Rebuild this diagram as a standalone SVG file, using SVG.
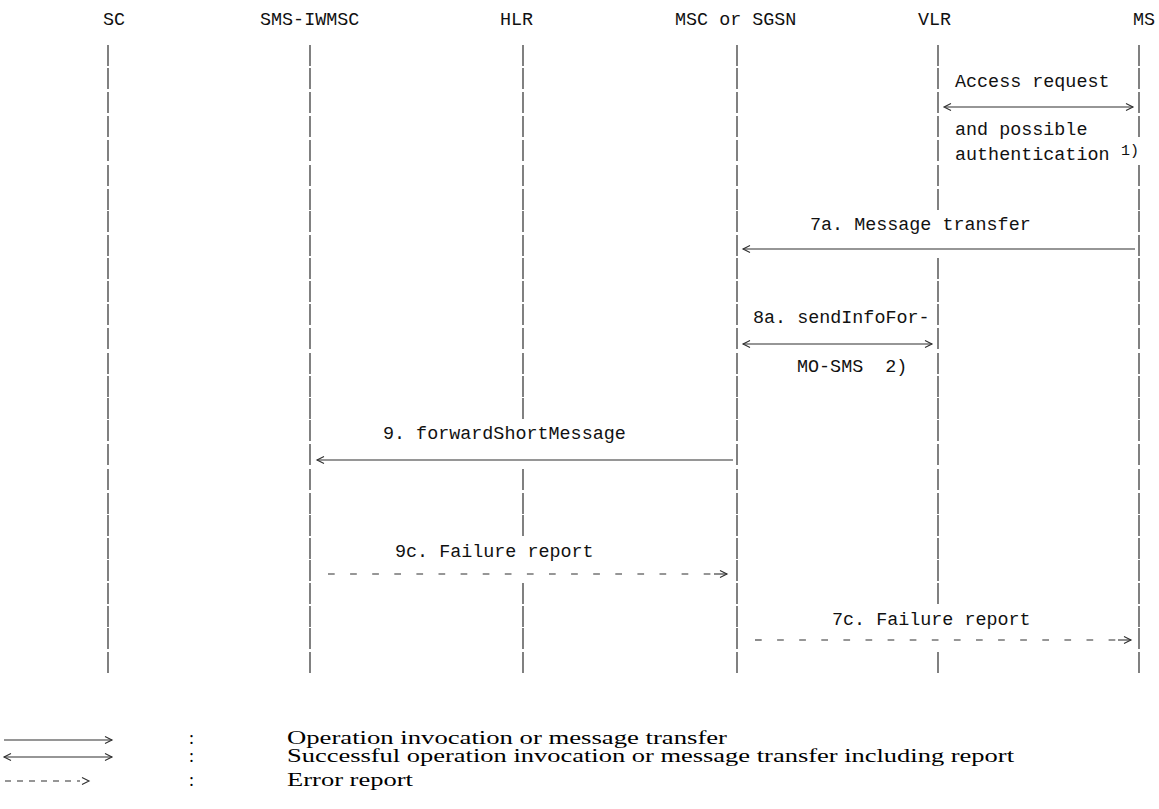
<svg xmlns="http://www.w3.org/2000/svg" xmlns:xlink="http://www.w3.org/1999/xlink" width="1159" height="809" viewBox="0 0 1159 809">
<style>
.mono{font-family:"Liberation Mono","Courier New",monospace;font-size:18.4px;fill:#111}
.sup{font-family:"Liberation Mono","Courier New",monospace;font-size:15px;fill:#111}
.serif{font-family:"Liberation Serif","Times New Roman",serif;font-size:18px;fill:#000}
.bar{stroke:#2e2e2e;stroke-width:1.2;fill:none}
.ln{stroke:#2e2e2e;stroke-width:1.1;fill:none}
.dash{stroke:#2e2e2e;stroke-width:1.1;fill:none;stroke-dasharray:6.7 15.4}
.head{stroke:#2e2e2e;stroke-width:1.1;fill:none;stroke-linejoin:miter}
</style>
<defs>
<path id="barAll" d="M0 45v21M0 68v21M0 92v21M0 116v21M0 140v21M0 165v21M0 189v21M0 211v21M0 235v21M0 258v21M0 281v21M0 304v21M0 328v21M0 353v21M0 376v21M0 398v21M0 420v21M0 444v21M0 469v21M0 493v21M0 515v21M0 538v21M0 560v21M0 583v21M0 606v21M0 628v21M0 652v21"/>
</defs>
<rect width="1159" height="809" fill="#fff"/>

<g id="node-sc">
<text class="mono" x="103" y="25">SC</text>
<use xlink:href="#barAll" href="#barAll" class="bar" x="108"/>
</g>
<g id="node-sms-iwmsc">
<text class="mono" x="260" y="25">SMS-IWMSC</text>
<use xlink:href="#barAll" href="#barAll" class="bar" x="310"/>
</g>
<g id="node-hlr">
<text class="mono" x="500" y="25">HLR</text>
<path class="bar" d="M523 45v21M523 68v21M523 92v21M523 116v21M523 140v21M523 165v21M523 189v21M523 211v21M523 235v21M523 258v21M523 281v21M523 304v21M523 328v21M523 353v21M523 376v21M523 398v21M523 469v21M523 493v21M523 515v21M523 583v21M523 606v21M523 628v21M523 652v21"/>
</g>
<g id="node-msc">
<text class="mono" x="675" y="25">MSC or SGSN</text>
<use xlink:href="#barAll" href="#barAll" class="bar" x="737"/>
</g>
<g id="node-vlr">
<text class="mono" x="918" y="25">VLR</text>
<path class="bar" d="M938 45v21M938 68v21M938 92v21M938 116v21M938 140v21M938 165v21M938 189v21M938 258v21M938 281v21M938 304v21M938 328v21M938 353v21M938 376v21M938 398v21M938 420v21M938 444v21M938 469v21M938 493v21M938 515v21M938 538v21M938 560v21M938 583v21M938 652v21"/>
</g>
<g id="node-ms">
<text class="mono" x="1133" y="25">MS</text>
<path class="bar" d="M1139 45v21M1139 68v21M1139 92v21M1139 116v21M1139 165v21M1139 189v21M1139 211v21M1139 235v21M1139 258v21M1139 281v21M1139 304v21M1139 328v21M1139 353v21M1139 376v21M1139 398v21M1139 420v21M1139 444v21M1139 469v21M1139 493v21M1139 515v21M1139 538v21M1139 560v21M1139 583v21M1139 606v21M1139 628v21M1139 652v21"/>
</g>

<g id="connectors">
<g id="c-access">
<text class="mono" x="955" y="87">Access request</text>
<path class="ln" d="M945 107H1133"/>
<path class="head" d="M951 103.5L944 107L951 110.5M1126 103.5L1133 107L1126 110.5"/>
<text class="mono" x="955" y="135">and possible</text>
<text class="mono" x="955" y="160">authentication</text>
<text class="sup" x="1121" y="155">1)</text>
</g>
<g id="c-7a">
<text class="mono" x="810" y="230">7a. Message transfer</text>
<path class="ln" d="M743 249H1135"/>
<path class="head" d="M750 245.5L743 249L750 252.5"/>
</g>
<g id="c-8a">
<text class="mono" x="753" y="323">8a. sendInfoFor-</text>
<path class="ln" d="M743 344H932"/>
<path class="head" d="M750 340.5L743 344L750 347.5M925 340.5L932 344L925 347.5"/>
<text class="mono" x="797" y="372" xml:space="preserve">MO-SMS  2)</text>
</g>
<g id="c-9">
<text class="mono" x="383" y="439">9. forwardShortMessage</text>
<path class="ln" d="M317 460H733"/>
<path class="head" d="M324 456.5L317 460L324 463.5"/>
</g>
<g id="c-9c">
<text class="mono" x="395" y="557">9c. Failure report</text>
<path class="dash" d="M328 574H721"/>
<path class="ln" d="M714 574H727"/>
<path class="head" d="M720 570.5L727 574L720 577.5"/>
</g>
<g id="c-7c">
<text class="mono" x="832" y="625">7c. Failure report</text>
<path class="dash" d="M755 640H1125"/>
<path class="ln" d="M1118 640H1131"/>
<path class="head" d="M1124 636.5L1131 640L1124 643.5"/>
</g>
</g>

<g id="legend">
<path class="ln" d="M4 740H112"/>
<path class="head" d="M105 736.5L112 740L105 743.5"/>
<text class="serif" x="189" y="744">:</text>
<text class="serif" x="287" y="744" textLength="440" lengthAdjust="spacingAndGlyphs">Operation invocation or message transfer</text>
<path class="ln" d="M4 757H112"/>
<path class="head" d="M11 753.5L4 757L11 760.5M105 753.5L112 757L105 760.5"/>
<text class="serif" x="189" y="762">:</text>
<text class="serif" x="287" y="762" textLength="727" lengthAdjust="spacingAndGlyphs">Successful operation invocation or message transfer including report</text>
<path class="dash" d="M5 781H80" style="stroke-dasharray:6 6"/>
<path class="head" d="M82 777.5L89 781L82 784.5"/>
<text class="serif" x="189" y="786">:</text>
<text class="serif" x="287" y="786" textLength="126" lengthAdjust="spacingAndGlyphs">Error report</text>
</g>
</svg>
